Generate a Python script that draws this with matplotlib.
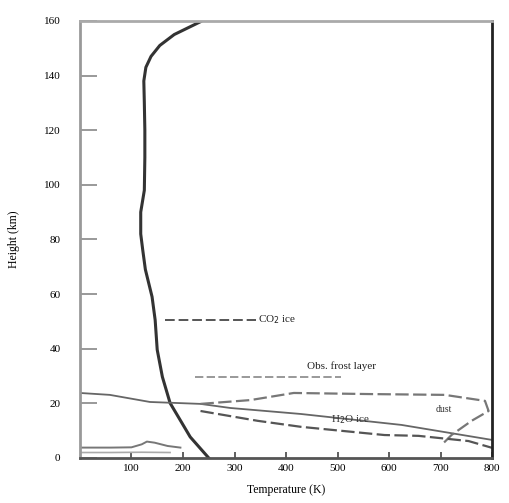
import numpy as np
import matplotlib
matplotlib.use("Agg")
from matplotlib import pyplot as plt

plt.rcParams['font.family'] = ['Liberation Serif', 'DejaVu Serif']

# temperature profile (K) vs height (km)
prof_h = [0, 7.7, 12.8, 20.1, 29.7, 39.6, 50.5, 59, 69, 76, 82, 90, 98, 110, 120, 130, 138, 143, 147, 151, 155, 159.7]
prof_T = [250, 214, 198, 175, 160, 150, 146, 140, 127, 122, 118, 118, 125, 126, 126, 125, 124, 128, 138, 155, 183, 234]

# solid condensation boundary
bnd_T = [0, 58, 136, 234, 292, 429, 624, 800]
bnd_h = [23.8, 23.1, 20.5, 19.8, 18.3, 16.1, 12.1, 6.6]

# upper dust curve (loops at the right)
dust_T = [234, 331, 415, 560, 708, 786, 793, 760, 721, 702]
dust_h = [19.8, 21.2, 23.8, 23.4, 23.1, 20.9, 17.2, 13.6, 8.4, 4.8]

# lower H2O ice curve
ice_T = [234, 345, 429, 591, 657, 754, 800]
ice_h = [17.2, 13.6, 11.4, 8.4, 8.1, 6.2, 3.7]

# surface layer curves
surf_T = [0, 60, 100, 120, 130, 145, 170, 195]
surf_h = [3.8, 3.8, 3.9, 5.0, 6.0, 5.6, 4.4, 3.8]
surf2_T = [0, 60, 120, 175]
surf2_h = [2.0, 2.0, 2.1, 2.0]

# label marker lines
co2_T = [165, 341]
co2_h = [50.5, 50.5]
frost_T = [224, 507]
frost_h = [29.7, 29.7]

fig = plt.figure(figsize=(5.09, 5.03), dpi=100)
ax = fig.add_axes([0.157, 0.0895, 0.81, 0.869])

ax.plot(prof_T, prof_h, color='#333333', lw=2.2)
ax.plot(bnd_T, bnd_h, color='#666666', lw=1.3)
ax.plot(dust_T, dust_h, color='#777777', lw=1.6, ls=(0, (6, 2)))
ax.plot(ice_T, ice_h, color='#555555', lw=1.6, ls=(0, (6, 2)))
ax.plot(surf_T, surf_h, color='#777777', lw=1.4)
ax.plot(surf2_T, surf2_h, color='#aaaaaa', lw=1.2)
ax.plot(co2_T, co2_h, color='#555555', lw=1.4, ls=(0, (5, 2)))
ax.plot(frost_T, frost_h, color='#888888', lw=1.2, ls=(0, (5, 2)))

ax.text(345, 50.5, 'CO$_2$ ice', fontsize=8, va='center', color='#222222')
ax.text(440, 33.7, 'Obs. frost layer', fontsize=8, va='center', color='#222222')
ax.text(487, 14.0, 'H$_2$O ice', fontsize=8, va='center', color='#333333')
ax.text(690, 17.8, 'dust', fontsize=7, va='center', color='#333333')

ax.set_xlim(0, 800)
ax.set_ylim(0, 160)
ax.set_xticks(range(100, 801, 100))
ax.set_yticks(range(0, 161, 20))
ax.tick_params(axis='y', direction='in', length=12, width=1.2, color='#888888', labelsize=8, pad=14)
ax.tick_params(axis='x', direction='in', length=4, width=1.2, color='#444444', labelsize=8, pad=4)
ax.set_xlabel('Temperature (K)', fontsize=8.5, labelpad=8)
ax.set_ylabel('Height (km)', fontsize=8.5, labelpad=17)

ax.spines['left'].set_color('#999999')
ax.spines['left'].set_linewidth(2)
ax.spines['top'].set_color('#aaaaaa')
ax.spines['top'].set_linewidth(2)
ax.spines['right'].set_color('#222222')
ax.spines['right'].set_linewidth(2)
ax.spines['bottom'].set_color('#555555')
ax.spines['bottom'].set_linewidth(2)

fig.savefig('out.png', dpi=100)
